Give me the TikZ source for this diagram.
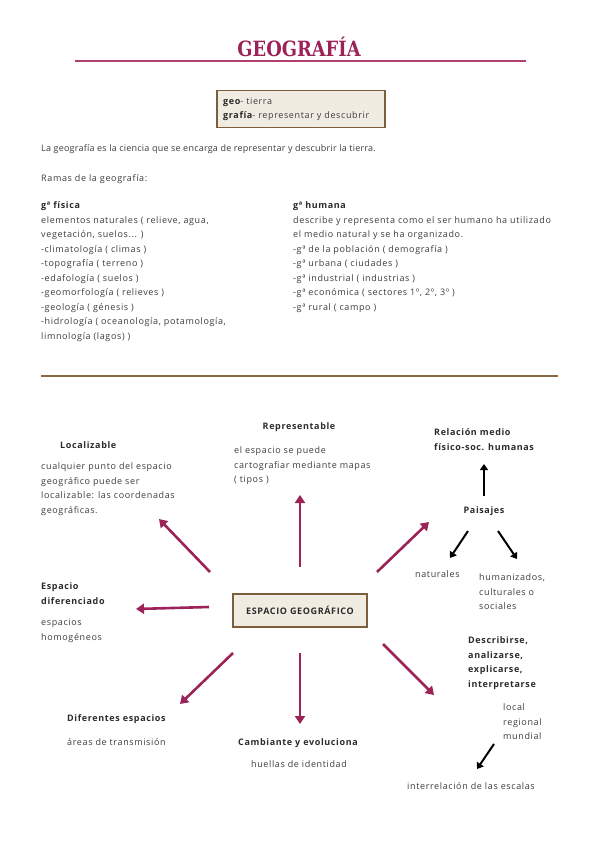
\documentclass[tikz,border=0pt]{standalone}
\usepackage{fontspec}
\usepackage{graphicx}
\setmainfont{Open Sans}[LetterSpace=7]
\newfontfamily\introfont{Open Sans}[LetterSpace=2.5]
\newfontfamily\titlefont{DejaVu Serif}
\usetikzlibrary{arrows.meta}
\definecolor{crim}{HTML}{9C2257}
\definecolor{crimline}{HTML}{B0406F}
\definecolor{brownline}{HTML}{8A6A45}
\definecolor{boxfill}{HTML}{F1ECE2}
\definecolor{boxdraw}{HTML}{7D5E3C}
\definecolor{txt}{HTML}{3C3C3C}
\definecolor{btxt}{HTML}{2B2B2B}
\newcommand{\mystrut}{\rule{0pt}{7pt}}
\tikzset{
  body/.style={anchor=north west, inner sep=0pt, align=left, text=txt,
    font=\fontsize{9}{14.5}\selectfont},
  bodyc/.style={body, anchor=north, align=center},
  lab/.style={anchor=north west, inner sep=0pt, align=left, text=btxt,
    font=\fontsize{9}{14.5}\selectfont\bfseries},
  labc/.style={lab, anchor=north, align=center},
  sbox/.style={draw=boxdraw, fill=boxfill, line width=1.2pt},
  bigarrow/.style={draw=crim, line width=2.6pt, -{Triangle[width=10pt,length=8pt]}},
  smallarrow/.style={draw=black, line width=2pt, -{Triangle[width=8pt,length=6pt]}}
}
\begin{document}
\begin{tikzpicture}[x=1pt,y=-1pt]
\useasboundingbox (0,0) rectangle (600,848);
% title
\node[text=crim, inner sep=0pt, font=\titlefont\bfseries\fontsize{21}{24}\selectfont] (title) at (299,47) {\scalebox{0.85}[1]{GEOGRAFÍA}};
\coordinate (tl1) at (75,61);
\coordinate (tl2) at (526,61);
\draw[crimline, line width=2pt] (tl1) -- (tl2);
% definition box
\node[sbox, minimum width=168pt, minimum height=37pt] (defbox) at (301,109) {};
\node[body] (def) at (223,97) {\mystrut\textbf{\color{btxt}geo}- tierra\\\textbf{\color{btxt}grafía}- representar y descubrir};
% intro
\node[body, font=\introfont\fontsize{9}{14.5}\selectfont] (intro) at (41,144.5) {\mystrut La geografía es la ciencia que se encarga de representar y descubrir la tierra.};
\node[body] (ramas) at (41,174.5) {\mystrut Ramas de la geografía:};
\node[body] (fis) at (41,201.5) {\mystrut\textbf{\color{btxt}gª física}\\
elementos naturales ( relieve, agua,\\
vegetación, suelos... )\\
-climatología ( climas )\\
-topografía ( terreno )\\
-edafología ( suelos )\\
-geomorfología ( relieves )\\
-geología ( génesis )\\
-hidrología ( oceanología, potamología,\\
limnología (lagos) )};
\node[body] (hum) at (293,201.5) {\mystrut\textbf{\color{btxt}gª humana}\\
describe y representa como el ser humano ha utilizado\\
el medio natural y se ha organizado.\\
-gª de la población ( demografía )\\
-gª urbana ( ciudades )\\
-gª industrial ( industrias )\\
-gª económica ( sectores 1º, 2º, 3º )\\
-gª rural ( campo )};
\coordinate (bl1) at (41,376);
\coordinate (bl2) at (558,376);
\draw[brownline, line width=2pt] (bl1) -- (bl2);
% center
\node[sbox, minimum width=134pt, minimum height=33pt, text=btxt, font=\fontsize{9}{10}\selectfont\bfseries] (esp) at (300,610.5) {ESPACIO GEOGRÁFICO};
% targets
\node[lab] (loc) at (60,441.5) {\mystrut Localizable};
\node[body] (locd) at (41,462.5) {\mystrut cualquier punto del espacio\\geográfico puede ser\\localizable: las coordenadas\\geográficas.};
\node[labc] (rep) at (299,422.5) {\mystrut Representable};
\node[body] (repd) at (234,446.5) {\mystrut el espacio se puede\\cartografiar mediante mapas\\( tipos )};
\node[lab] (rel) at (434,428.5) {\mystrut Relación medio\\físico-soc. humanas};
\node[labc] (pai) at (484,506.5) {\mystrut Paisajes};
\node[body] (nat) at (415,570.5) {\mystrut naturales};
\node[body] (hz) at (479,573.5) {\mystrut humanizados,\\culturales o\\sociales};
\node[lab] (dif) at (41,582.5) {\mystrut Espacio\\diferenciado};
\node[body] (difd) at (41,618.5) {\mystrut espacios\\homogéneos};
\node[lab] (des) at (468,636.5) {\mystrut Describirse,\\analizarse,\\explicarse,\\interpretarse};
\node[body] (lrm) at (503,703.5) {\mystrut local\\regional\\mundial};
\node[lab] (dsp) at (67,714.5) {\mystrut Diferentes espacios};
\node[body] (dspd) at (67,738.5) {\mystrut áreas de transmisión};
\node[labc] (cam) at (298,738.5) {\mystrut Cambiante y evoluciona};
\node[bodyc] (camd) at (299,760.5) {\mystrut huellas de identidad};
\node[bodyc] (int) at (471,782.5) {\mystrut interrelación de las escalas};
% arrow ends
\coordinate (aU1) at (300,567); \coordinate (aU2) at (300,495);
\coordinate (aUL1) at (210,572); \coordinate (aUL2) at (159,519);
\coordinate (aL1) at (209,607); \coordinate (aL2) at (136,609);
\coordinate (aDL1) at (233,653); \coordinate (aDL2) at (180,704);
\coordinate (aD1) at (300,653); \coordinate (aD2) at (300,724);
\coordinate (aDR1) at (383,644); \coordinate (aDR2) at (434,695);
\coordinate (aUR1) at (377,572); \coordinate (aUR2) at (429,522);
\draw[bigarrow] (aU1) -- (aU2);
\draw[bigarrow] (aUL1) -- (aUL2);
\draw[bigarrow] (aL1) -- (aL2);
\draw[bigarrow] (aDL1) -- (aDL2);
\draw[bigarrow] (aD1) -- (aD2);
\draw[bigarrow] (aDR1) -- (aDR2);
\draw[bigarrow] (aUR1) -- (aUR2);
\coordinate (pU1) at (484,496); \coordinate (pU2) at (484,464);
\coordinate (pL1) at (468,531); \coordinate (pL2) at (450,558);
\coordinate (pR1) at (498,531); \coordinate (pR2) at (517,559);
\coordinate (iA1) at (494,744); \coordinate (iA2) at (477,769);
\draw[smallarrow] (pU1) -- (pU2);
\draw[smallarrow] (pL1) -- (pL2);
\draw[smallarrow] (pR1) -- (pR2);
\draw[smallarrow] (iA1) -- (iA2);
\end{tikzpicture}
\end{document}
